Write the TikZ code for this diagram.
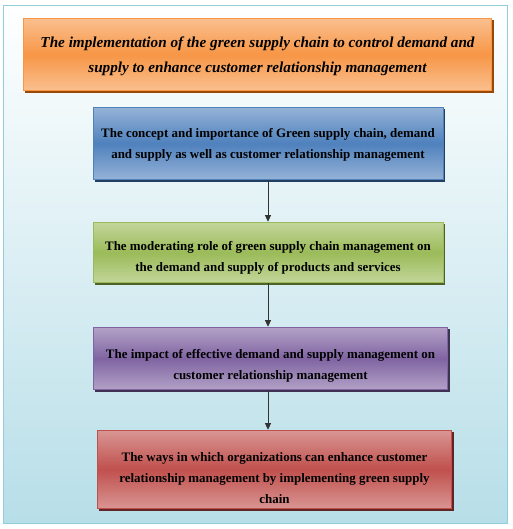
\documentclass[tikz,border=0pt]{standalone}
\usepackage{fontspec}
\setmainfont{Liberation Serif}
\usetikzlibrary{positioning, arrows.meta, shadows}

\definecolor{frameblue}{HTML}{92CDDC}
\definecolor{bgbottom}{HTML}{B7DEE8}
\definecolor{orangemid}{HTML}{F79646}
\definecolor{orangeend}{HTML}{FAC090}
\definecolor{orangedark}{HTML}{984807}
\definecolor{bluemid}{HTML}{4F81BD}
\definecolor{blueend}{HTML}{95B3D7}
\definecolor{bluedark}{HTML}{243F60}
\definecolor{greenmid}{HTML}{9BBB59}
\definecolor{greenend}{HTML}{C3D69B}
\definecolor{greendark}{HTML}{4F6228}
\definecolor{purplemid}{HTML}{8064A2}
\definecolor{purpleend}{HTML}{B3A2C7}
\definecolor{purpledark}{HTML}{3F3151}
\definecolor{redmid}{HTML}{C0504D}
\definecolor{redend}{HTML}{D99694}
\definecolor{reddark}{HTML}{632523}

% invisible strut that pushes a box's text down
\newcommand{\lift}[1]{\rule{0pt}{#1}}

\begin{document}
\begin{tikzpicture}[
  x=0.75pt, y=-0.75pt,
  stage/.style={draw, line width=0.6pt, align=center, inner sep=2pt,
                font=\fontsize{9.7}{15.75}\selectfont\bfseries},
  tinted/.style n args={3}{draw=#1, top color=#2, bottom color=#2, middle color=#1,
                drop shadow={shadow xshift=1.6pt, shadow yshift=-1.6pt,
                             fill=#3, opacity=1}},
  flow/.style={-{Triangle[length=5pt, width=4.5pt]}, line width=0.6pt, draw=black!80},
]

% background panel
\useasboundingbox (0,0) rectangle (512,529);
\node[draw=frameblue, line width=0.8pt, top color=white, bottom color=bgbottom,
      minimum width=377.5pt, minimum height=389pt, inner sep=0pt] (panel) at (255.5,264.5) {};

\node[stage, tinted={orangemid}{orangeend}{orangedark},
      minimum width=351.5pt, minimum height=54.5pt,
      font=\fontsize{11.4}{18.75}\selectfont\bfseries\itshape] (goal) at (257.5,54.5)
    {\lift{11pt}The implementation of the green supply chain to control demand and\\
     supply to enhance customer relationship management};

\node[stage, tinted={bluemid}{blueend}{bluedark},
      minimum width=262.5pt, minimum height=54.5pt] (concept) at (268,143.5)
    {\lift{8.8pt}The concept and importance of Green supply chain, demand\\
     and supply as well as customer relationship management};

\node[stage, tinted={greenmid}{greenend}{greendark},
      minimum width=262.5pt, minimum height=45.5pt] (moderate) at (268,252.5)
    {\lift{15pt}The moderating role of green supply chain management on\\
     the demand and supply of products and services};

\node[stage, tinted={purplemid}{purpleend}{purpledark},
      minimum width=266pt, minimum height=47pt] (impact) at (270.5,358.5)
    {\lift{17.3pt}The impact of effective demand and supply management on\\
     customer relationship management};

\node[stage, tinted={redmid}{redend}{reddark},
      minimum width=266pt, minimum height=59pt] (ways) at (274.5,469.5)
    {\lift{20.3pt}The ways in which organizations can enhance customer\\
     relationship management by implementing green supply\\
     chain};

\draw[flow] (concept.south -| 268,0) -- (moderate.north -| 268,0);
\draw[flow] (moderate.south -| 268,0) -- (impact.north -| 268,0);
\draw[flow] (impact.south -| 268,0) -- (ways.north -| 268,0);

\end{tikzpicture}
\end{document}
